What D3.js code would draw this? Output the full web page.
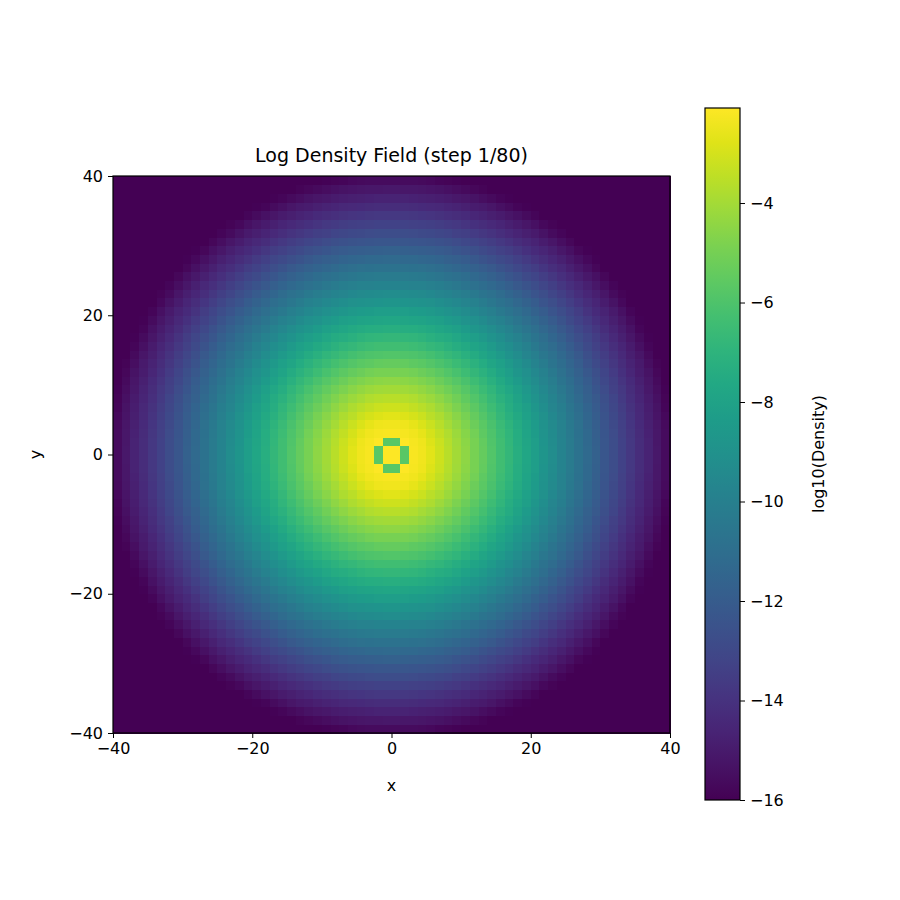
<!DOCTYPE html>
<html>
<head>
<meta charset="utf-8">
<script src="https://cdn.jsdelivr.net/npm/d3@7"></script>
<style>body{margin:0;background:#fff}text{font-family:"DejaVu Sans",sans-serif}</style>
</head>
<body>
<svg width="900" height="900"></svg>
<script>
// radial profile (radius in x/y units -> log10 density)
const profileRadius = [0, 2.5, 5, 10, 15, 20, 25, 30, 35, 40, 41, 60];
const profileLog = [-2.05, -2.1, -2.5, -4.2, -6.1, -8.0, -10.0, -12.0, -14.0, -15.8, -16, -16];
// small ring of lower density around the centre (grid index offsets from centre)
const ringCells = [[-1, -2], [0, -2], [-1, 1], [0, 1], [-2, -1], [-2, 0], [1, -1], [1, 0]];
const ringLog = -5.7;
const xTicks = [-40, -20, 0, 20, 40];
const cbTicks = [-16, -14, -12, -10, -8, -6, -4];
const nCells = 64;

const svg = d3.select('svg');
const plotLeft = 113, plotTop = 176, size = 557;
const x = d3.scaleLinear().domain([-40, 40]).range([plotLeft, plotLeft + size]);
const y = d3.scaleLinear().domain([-40, 40]).range([plotTop + size, plotTop]);
const color = d3.scaleSequential(d3.interpolateViridis).domain([-16, -2.09]);
const prof = d3.scaleLinear().domain(profileRadius).range(profileLog).clamp(true);

const step = 80 / nCells;
const cells = [];
for (let i = 0; i < nCells; i++) {
    for (let j = 0; j < nCells; j++) {
        const cx = -40 + (i + 0.5) * step, cy = -40 + (j + 0.5) * step;
        cells.push({i, j, v: prof(Math.hypot(cx, cy))});
    }
}
const half = nCells / 2;
ringCells.forEach(([di, dj]) => {
    const c = cells.find(c => c.i === half + di && c.j === half + dj);
    c.v = ringLog;
});

svg.append('g').attr('shape-rendering', 'crispEdges').selectAll('rect').data(cells).join('rect')
    .attr('x', d => x(-40 + d.i * step))
    .attr('y', d => y(-40 + (d.j + 1) * step))
    .attr('width', x(step) - x(0) + 0.6)
    .attr('height', x(step) - x(0) + 0.6)
    .attr('fill', d => color(d.v));

svg.append('rect').attr('x', plotLeft).attr('y', plotTop).attr('width', size).attr('height', size)
    .attr('fill', 'none').attr('stroke', 'black').attr('stroke-width', 1.2);

const fmt = d => d < 0 ? '\u2212' + (-d) : d;
const xa = svg.append('g').attr('transform', `translate(0,${plotTop + size})`)
    .call(d3.axisBottom(x).tickValues(xTicks).tickSize(5).tickPadding(5).tickFormat(fmt));
const ya = svg.append('g').attr('transform', `translate(${plotLeft},0)`)
    .call(d3.axisLeft(y).tickValues(xTicks).tickSize(5).tickPadding(5).tickFormat(fmt));
[xa, ya].forEach(a => { a.select('.domain').remove(); a.attr('font-size', null); a.selectAll('text').style('font-size', '16px').attr('fill', 'black'); });

svg.append('text').attr('x', plotLeft + size / 2).attr('y', 162).attr('text-anchor', 'middle')
    .style('font-size', '19px').text('Log Density Field (step 1/80)');
svg.append('text').attr('x', plotLeft + size / 2).attr('y', 791).attr('text-anchor', 'middle')
    .style('font-size', '16px').text('x');
svg.append('text').attr('transform', `translate(41,${plotTop + size / 2}) rotate(-90)`).attr('text-anchor', 'middle')
    .style('font-size', '16px').text('y');

// colorbar
const cbX = 705, cbW = 35, cbTop = 108, cbBot = 800;
const cb = d3.scaleLinear().domain([-16, -2.09]).range([cbBot, cbTop]);
const defs = svg.append('defs');
const grad = defs.append('linearGradient').attr('id', 'vg').attr('x1', 0).attr('y1', 1).attr('x2', 0).attr('y2', 0);
d3.range(0, 1.01, 0.05).forEach(t => grad.append('stop').attr('offset', t).attr('stop-color', d3.interpolateViridis(t)));
svg.append('rect').attr('x', cbX).attr('y', cbTop).attr('width', cbW).attr('height', cbBot - cbTop)
    .attr('fill', 'url(#vg)').attr('stroke', 'black').attr('stroke-width', 1.2);
const ca = svg.append('g').attr('transform', `translate(${cbX + cbW},0)`)
    .call(d3.axisRight(cb).tickValues(cbTicks).tickSize(5).tickPadding(5).tickFormat(fmt));
ca.select('.domain').remove();
ca.selectAll('text').style('font-size', '16px').attr('fill', 'black');
svg.append('text').attr('transform', `translate(824,${(cbTop + cbBot) / 2}) rotate(-90)`).attr('text-anchor', 'middle')
    .style('font-size', '16px').text('log10(Density)');
</script>
</body>
</html>
